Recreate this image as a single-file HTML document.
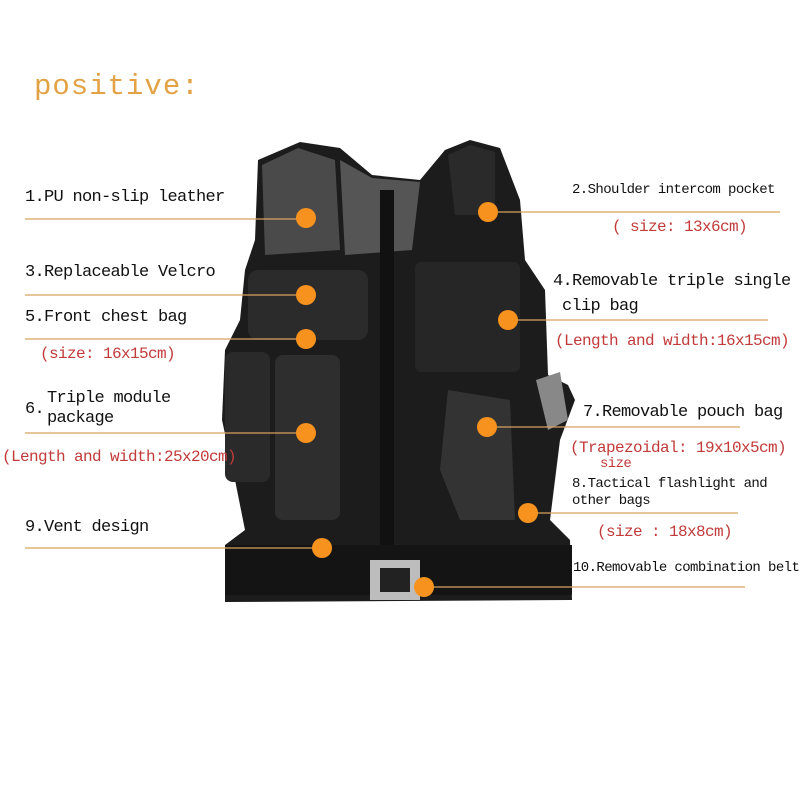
<!DOCTYPE html>
<html><head><meta charset="utf-8"><style>
body{margin:0;width:800px;height:800px;background:#fff;overflow:hidden;position:relative;font-family:"Liberation Mono","Noto Sans CJK SC",monospace;}
.t{position:absolute;color:#111;font-size:17px;white-space:nowrap;letter-spacing:-0.7px;}
.r{position:absolute;color:#c23a3a;font-size:16px;white-space:nowrap;letter-spacing:-0.6px;}
.s{font-size:14px;letter-spacing:-0.6px;}
</style></head><body>
<svg width="800" height="800" style="position:absolute;left:0;top:0">
<g fill="#1c1c1c">
<path d="M258 160 L300 142 L340 148 L372 175 L420 180 L445 150 L470 140 L500 148 L520 200 L525 260 L545 290 L548 375 L568 385 L575 400 L560 440 L550 520 L570 540 L572 600 L225 602 L225 545 L245 530 L235 480 L222 420 L225 350 L240 320 L245 270 L255 240 Z"/>
</g>
<path d="M262 165 L298 148 L335 160 L340 250 L265 255 Z" fill="#4a4a4a"/>
<path d="M340 160 L372 178 L420 182 L412 250 L345 255 Z" fill="#555"/>
<path d="M448 155 L470 145 L495 152 L495 215 L455 215 Z" fill="#2a2a2a"/>
<rect x="248" y="270" width="120" height="70" rx="10" fill="#2b2b2b"/>
<rect x="415" y="262" width="105" height="110" rx="6" fill="#262626"/>
<rect x="275" y="355" width="65" height="165" rx="8" fill="#2e2e2e"/>
<rect x="225" y="352" width="45" height="130" rx="8" fill="#2a2a2a"/>
<path d="M448 390 L510 400 L515 520 L460 520 L440 470 Z" fill="#333"/>
<rect x="380" y="190" width="14" height="400" fill="#111"/>
<rect x="225" y="545" width="347" height="50" fill="#141414"/>
<rect x="370" y="560" width="50" height="40" fill="#bdbdbd"/>
<rect x="380" y="568" width="30" height="24" fill="#222"/>
<path d="M536 380 L560 372 L568 420 L548 430 Z" fill="#888"/>
<g stroke="#d6a25a" stroke-width="1.3">
<line x1="25" y1="219" x2="306" y2="219"/>
<line x1="25" y1="295" x2="306" y2="295"/>
<line x1="25" y1="339" x2="306" y2="339"/>
<line x1="25" y1="433" x2="306" y2="433"/>
<line x1="25" y1="548" x2="322" y2="548"/>
<line x1="488" y1="212" x2="780" y2="212"/>
<line x1="508" y1="320" x2="768" y2="320"/>
<line x1="487" y1="427" x2="740" y2="427"/>
<line x1="528" y1="513" x2="738" y2="513"/>
<line x1="425" y1="587" x2="745" y2="587"/>
</g>
<g fill="#f7921e">
<circle cx="306" cy="218" r="10"/>
<circle cx="306" cy="295" r="10"/>
<circle cx="306" cy="339" r="10"/>
<circle cx="306" cy="433" r="10"/>
<circle cx="322" cy="548" r="10"/>
<circle cx="488" cy="212" r="10"/>
<circle cx="508" cy="320" r="10"/>
<circle cx="487" cy="427" r="10"/>
<circle cx="528" cy="513" r="10"/>
<circle cx="424" cy="587" r="10"/>
</g>
</svg>
<div style="position:absolute;left:34px;top:70px;color:#e3a245;font-size:29px;letter-spacing:1px;font-family:'Liberation Mono',monospace;">positive:</div>
<div class="t" style="left:25px;top:188px">1.PU non-slip leather</div>
<div class="t" style="left:25px;top:263px">3.Replaceable Velcro</div>
<div class="t" style="left:25px;top:308px">5.Front chest bag</div>
<div class="r" style="left:40px;top:345px">(size: 16x15cm)</div>
<div class="t" style="left:47px;top:389px">Triple module</div>
<div class="t" style="left:25px;top:400px">6.</div>
<div class="t" style="left:47px;top:409px">package</div>
<div class="r" style="left:2px;top:448px">(Length and width:25x20cm)</div>
<div class="t" style="left:25px;top:518px">9.Vent design</div>
<div class="t s" style="left:572px;top:182px">2.Shoulder intercom pocket</div>
<div class="r" style="left:612px;top:218px">( size: 13x6cm)</div>
<div class="t" style="left:553px;top:272px">4.Removable triple single</div>
<div class="t" style="left:562px;top:297px">clip bag</div>
<div class="r" style="left:555px;top:332px">(Length and width:16x15cm)</div>
<div class="t" style="left:583px;top:403px">7.Removable pouch bag</div>
<div class="r" style="left:570px;top:439px">(Trapezoidal: 19x10x5cm)</div>
<div class="r s" style="left:600px;top:456px">size</div>
<div class="t s" style="left:572px;top:476px">8.Tactical flashlight and</div>
<div class="t s" style="left:572px;top:493px">other bags</div>
<div class="r" style="left:597px;top:523px">(size : 18x8cm)</div>
<div class="t s" style="left:573px;top:560px">10.Removable combination belt</div>
</body></html>
